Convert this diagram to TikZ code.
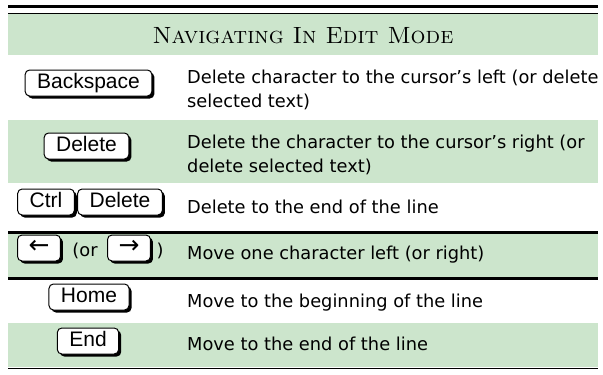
\documentclass[tikz,border=0pt]{standalone}
\usepackage{fontspec}
\newfontfamily\descfont{DejaVu Sans}
\newfontfamily\keyfont{Liberation Sans}
\newfontfamily\arrowfont{DejaVu Sans}
\usetikzlibrary{shadows}
\definecolor{rowgreen}{RGB}{204,229,204}
\tikzset{
  keycap/.style={draw, line width=1pt, fill=white, rounded corners=4.5pt,
    minimum height=26pt, inner xsep=12pt, inner ysep=0pt,
    text height=15pt, text depth=4pt,
    font=\keyfont\fontsize{21}{21}\selectfont,
    drop shadow={shadow xshift=2.5pt, shadow yshift=-2.5pt, fill=black, opacity=1}},
  arrowkey/.style={keycap, inner xsep=11pt, font=\arrowfont\fontsize{25}{25}\selectfont},
  desc/.style={anchor=base west, align=left, inner sep=0pt,
    font=\descfont\fontsize{17.8}{24}\selectfont},
  band/.style={fill=rowgreen, draw=none},
  thickrule/.style={line width=2.6pt},
  thinrule/.style={line width=1pt},
}

\begin{document}
\begin{tikzpicture}[x=1pt, y=-1pt]
    \useasboundingbox (0,0) rectangle (603,375);
    % green bands
    \fill[band] (8,14) rectangle (598,55);
    \fill[band] (8,120) rectangle (598,183);
    \fill[band] (8,233) rectangle (598,278);
    \fill[band] (8,323) rectangle (598,367);
    % rules
    \draw[thickrule] (8,6.2) -- (598,6.2);
    \draw[thinrule] (8,13.8) -- (598,13.8);
    \draw[thickrule] (8,232.5) -- (598,232.5);
    \draw[thickrule] (8,278.5) -- (598,278.5);
    \draw[thinrule] (8,368) -- (598,368);
    % title
    \node (title) at (303,36) {\fontsize{23.5}{23.5}\selectfont\textsc{Navigating In Edit Mode}};
    % keys
    \node[keycap] (backspace) at (88.5,83) {Backspace};
    \node[keycap] (delete) at (86.5,146) {Delete};
    \node[keycap] (ctrl) at (46,202) {Ctrl};
    \node[keycap] (ctrldel) at (120,202) {Delete};
    \node[arrowkey] (left) at (39,248) {←};
    \node[desc, anchor=base] (or) at (85,256) {(or};
    \node[arrowkey] (right) at (129,248) {→};
    \node[desc, anchor=base] (close) at (160,256) {)};
    \node[keycap] (home) at (89,297) {Home};
    \node[keycap] (end) at (88,341) {End};
    % descriptions
    \node[desc] (d1) at (187,107) {Delete character to the cursor’s left (or delete\\selected text)};
    \node[desc] (d2) at (187,172) {Delete the character to the cursor’s right (or\\delete selected text)};
    \node[desc] (d3) at (187,213) {Delete to the end of the line};
    \node[desc] (d4) at (187,259) {Move one character left (or right)};
    \node[desc] (d5) at (187,307) {Move to the beginning of the line};
    \node[desc] (d6) at (187,350) {Move to the end of the line};
\end{tikzpicture}
\end{document}
